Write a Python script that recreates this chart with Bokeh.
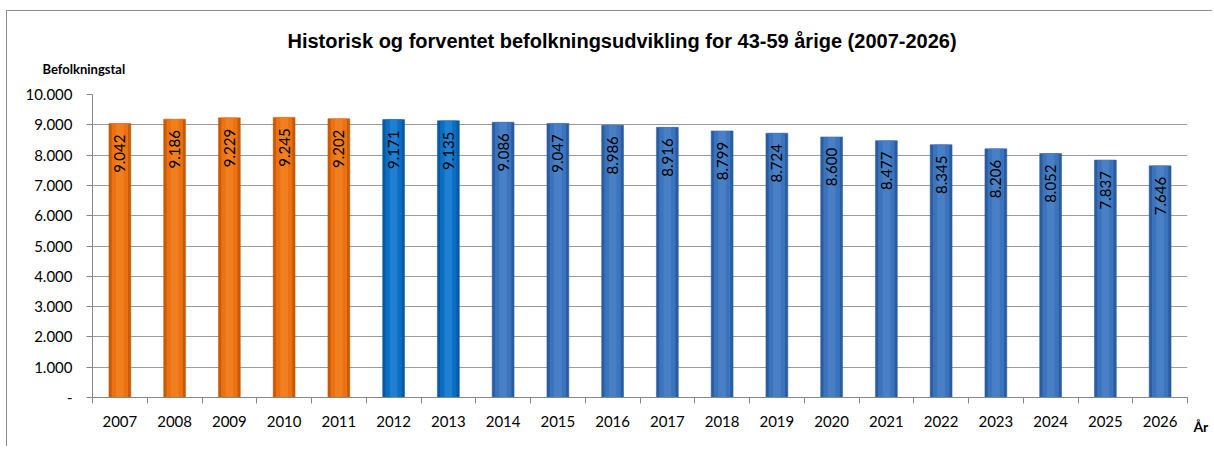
from math import pi
from bokeh.plotting import figure
from bokeh.models import ColumnDataSource, FixedTicker, Range1d, Title, LinearAxis
from bokeh.core.properties import value
from bokeh.embed import file_html
from bokeh.resources import INLINE

# ---- data ----
years = [2007, 2008, 2009, 2010, 2011, 2012, 2013, 2014, 2015, 2016,
         2017, 2018, 2019, 2020, 2021, 2022, 2023, 2024, 2025, 2026]
population = [9042, 9186, 9229, 9245, 9202, 9171, 9135, 9086, 9047, 8986,
              8916, 8799, 8724, 8600, 8477, 8345, 8206, 8052, 7837, 7646]
groups = ["hist"] * 5 + ["recent"] * 2 + ["prognose"] * 13
y_ticks = [0, 1000, 2000, 3000, 4000, 5000, 6000, 7000, 8000, 9000, 10000]
y_tick_labels = ["-", "1.000", "2.000", "3.000", "4.000", "5.000",
                 "6.000", "7.000", "8.000", "9.000", "10.000"]
title_text = "Historisk og forventet befolkningsudvikling for 43-59 årige (2007-2026)"
y_title = "Befolkningstal"
x_title = "År"

# ---- styles ----
base_col = {"hist": "#EC7211", "recent": "#0B6EC3", "prognose": "#3B74BC"}
edge_col = {"hist": "#C65A08", "recent": "#0858A2", "prognose": "#2A5C9F"}
hi_col = {"hist": "#F5892C", "recent": "#2D8AD9", "prognose": "#5389CC"}

labels = [f"{v:,}".replace(",", ".") for v in population]
src = ColumnDataSource(dict(
    x=years, top=population, label=labels,
    base=[base_col[g] for g in groups],
    edge=[edge_col[g] for g in groups],
    hi=[hi_col[g] for g in groups],
))

FONT = "Lato"
x_lo, x_hi = years[0] - 0.5, years[-1] + 0.5

p = figure(width=1206, height=436, output_backend="svg", toolbar_location=None,
           x_range=Range1d(x_lo, x_hi),
           y_range=Range1d(0, 10000),
           min_border_left=85, min_border_right=26,
           min_border_top=83, min_border_bottom=50)
p.outline_line_color = None
p.background_fill_color = "white"
p.border_fill_color = "white"
p.styles = {"border-top": "1px solid #8c8c8c", "border-left": "1px solid #8c8c8c",
            "margin-left": "6px", "margin-top": "10px"}

# titles (first added "above" sits closest to the plot)
sub = Title(text=y_title, align="left", offset=-50, standoff=36,
            text_font=FONT, text_font_style="bold", text_font_size="13px",
            text_color="#000000")
p.add_layout(sub, "above")
main = Title(text=title_text, align="left", offset=195, standoff=-23,
             text_font="Liberation Sans", text_font_style="bold",
             text_font_size="20px", text_color="#000000")
p.add_layout(main, "above")
p.title.visible = False

# grid
p.xgrid.grid_line_color = None
p.ygrid.ticker = FixedTicker(ticks=y_ticks)
p.ygrid.grid_line_color = "#9a9a9a"
p.ygrid.grid_line_width = 1

# bars (cylinder-like shading)
p.vbar(x="x", top="top", bottom=0, width=0.40, source=src,
       fill_color="edge", line_color="edge", line_width=0.5)
p.vbar(x="x", top="top", bottom=0, width=0.30, source=src,
       fill_color="base", line_color=None)
p.vbar(x="x", top="top", bottom=0, width=0.14, source=src,
       fill_color="hi", fill_alpha=0.6, line_color=None)

# value labels inside bars
p.text(x="x", y="top", text="label", source=src, angle=pi / 2,
       text_align="right", text_baseline="middle", y_offset=11,
       text_font=value(FONT), text_font_size="15px", text_color="#000000")

# axes
xa = p.xaxis[0]
xa.ticker = FixedTicker(ticks=years, minor_ticks=[y - 0.5 for y in years] + [x_hi])
xa.major_tick_out = 0
xa.major_tick_in = 0
xa.minor_tick_out = 6
xa.minor_tick_in = 0
xa.minor_tick_line_color = "#868686"
xa.axis_line_color = "#868686"
xa.major_label_standoff = 12
xa.major_label_text_font = FONT
xa.major_label_text_font_size = "15px"
xa.major_label_text_color = "#000000"
xa.major_label_overrides = {y: str(y) for y in years}

# second (label-only) axis carrying the "År" caption just right of the axis end
# (non-breaking spaces push the centred caption to the right of the last tick)
xa2 = LinearAxis(ticker=FixedTicker(ticks=[x_hi], minor_ticks=[]),
                 major_label_overrides={x_hi: "\u00a0" * 8 + x_title},
                 axis_line_color=None, major_tick_line_color=None,
                 minor_tick_line_color=None, major_tick_out=0, major_tick_in=0,
                 major_label_standoff=-12,
                 major_label_text_font=FONT, major_label_text_font_style="bold",
                 major_label_text_font_size="14px", major_label_text_color="#000000")
p.add_layout(xa2, "below")

ya = p.yaxis[0]
ya.ticker = FixedTicker(ticks=y_ticks)
ya.major_label_overrides = dict(zip(y_ticks, y_tick_labels))
ya.major_tick_out = 6
ya.major_tick_in = 0
ya.minor_tick_line_color = None
ya.major_tick_line_color = "#868686"
ya.axis_line_color = "#868686"
ya.major_label_standoff = 14
ya.major_label_text_font = FONT
ya.major_label_text_font_size = "15px"
ya.major_label_text_color = "#000000"

open("out.html", "w").write(file_html(p, INLINE))
